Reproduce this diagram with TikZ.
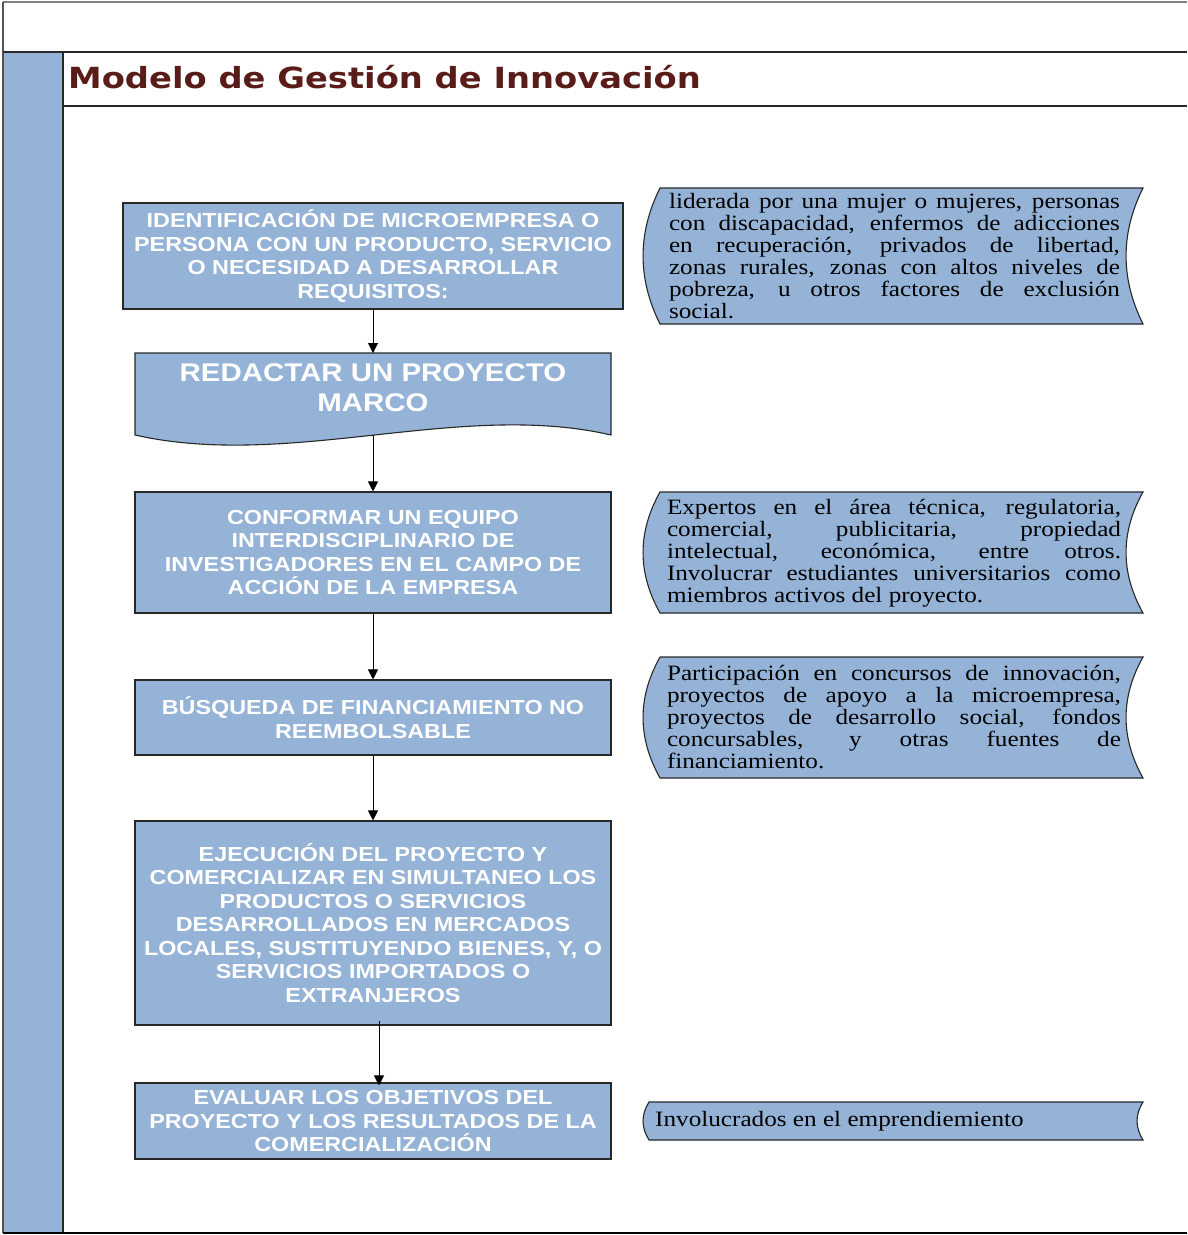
\documentclass[tikz,border=0pt]{standalone}
\usepackage{fontspec}
\setmainfont{Liberation Serif}
\newfontfamily\boxfont[FakeStretch=1.15]{Liberation Sans Bold}
\newfontfamily\titlefont[FakeStretch=1.16]{DejaVu Sans Bold}
\newfontfamily\notefont[FakeStretch=1.15]{Liberation Serif}
\usetikzlibrary{arrows.meta}
\definecolor{boxblue}{RGB}{149,179,215}
\definecolor{titlebrown}{RGB}{90,28,24}
\definecolor{edgegray}{RGB}{40,40,40}
\tolerance=9999
\hyphenpenalty=10000
\tikzset{
	stored data/.pic={
		\tikzset{/sdata/.cd,#1}
		\path[pic actions] ({-\sdw/2+\sdb},{-\sdh/2}) -- ({\sdw/2},{-\sdh/2})
		.. controls ({\sdw/2-1.33*\sdb},{-\sdh/6}) and ({\sdw/2-1.33*\sdb},{\sdh/6}) .. ({\sdw/2},{\sdh/2})
		-- ({-\sdw/2+\sdb},{\sdh/2})
		.. controls ({-\sdw/2-0.33*\sdb},{\sdh/6}) and ({-\sdw/2-0.33*\sdb},{-\sdh/6}) .. cycle;
	},
	/sdata/.search also={/tikz},
	/sdata/.cd,
	width/.store in=\sdw,
	height/.store in=\sdh,
	bulge/.store in=\sdb,
	width=500,
	height=100,
	bulge=17,
}
\tikzset{
	stepbox/.style={draw=edgegray, line width=1.1pt, fill=boxblue, text=white, align=center, inner sep=0pt, minimum width=476pt, font=\boxfont\fontsize{20.3}{23.5}\selectfont},
	datafill/.style={fill=boxblue, draw=edgegray, line width=1.1pt},
	notetext/.style={inner sep=0pt, align=justify, font=\notefont\fontsize{21.9}{22}\selectfont},
	conn/.style={-{Triangle[length=10pt,width=10pt]}, line width=1pt},
}

\begin{document}
\begin{tikzpicture}[x=1pt,y=-1pt]
	\useasboundingbox (0,0) rectangle (1187,1235);
	% frame and title bar
	\fill[boxblue] (3,52) rectangle (63,1233);
	\draw[edgegray, line width=1.2pt] (63,52) -- (63,1233);
	\draw[gray, line width=2pt] (3,2) -- (1187,2);
	\draw[edgegray!80, line width=2pt] (3,2) -- (3,1233);
	\draw[edgegray, line width=1.3pt] (3,52) -- (1187,52);
	\draw[edgegray, line width=1.3pt] (63,106) -- (1187,106);
	\draw[line width=1.6pt] (3,1233) -- (1187,1233);
	\node[anchor=base west, inner sep=0pt, text=titlebrown, font=\titlefont\fontsize{29.1}{30}\selectfont] (title) at (68,88) {Modelo de Gestión de Innovación};

	% steps
	\node[stepbox, minimum width=500pt, minimum height=106pt] (b1) at (373,256) {IDENTIFICACIÓN DE MICROEMPRESA O\\PERSONA CON UN PRODUCTO, SERVICIO\\O NECESIDAD A DESARROLLAR\\REQUISITOS:};
	\draw[datafill] (135,353) -- (611,353) -- (611,435) .. controls (460,400) and (290,470) .. (135,435) -- cycle;
	\coordinate (b2n) at (373,353);
	\coordinate (b2s) at (373,435);
	\node[text=white, align=center, font=\boxfont\fontsize{25.6}{30}\selectfont] (b2) at (373,388) {REDACTAR UN PROYECTO\\MARCO};
	\node[stepbox, minimum height=121pt] (b3) at (373,552.5) {CONFORMAR UN EQUIPO\\INTERDISCIPLINARIO DE\\INVESTIGADORES EN EL CAMPO DE\\ACCIÓN DE LA EMPRESA};
	\node[stepbox, minimum height=75pt] (b4) at (373,717.5) {BÚSQUEDA DE FINANCIAMIENTO NO\\REEMBOLSABLE};
	\node[stepbox, minimum height=204pt] (b5) at (373,923) {EJECUCIÓN DEL PROYECTO Y\\COMERCIALIZAR EN SIMULTANEO LOS\\PRODUCTOS O SERVICIOS\\DESARROLLADOS EN MERCADOS\\LOCALES, SUSTITUYENDO BIENES, Y, O\\SERVICIOS IMPORTADOS O\\EXTRANJEROS};
	\node[stepbox, minimum height=76pt] (b6) at (373,1121) {EVALUAR LOS OBJETIVOS DEL\\PROYECTO Y LOS RESULTADOS DE LA\\COMERCIALIZACIÓN};

	\draw[conn] (b1) -- (b2n);
	\draw[conn] (b2s) -- (b3);
	\draw[conn] (b3) -- (b4);
	\draw[conn] (b4) -- (b5);
	\draw[conn] ([xshift=6pt,yshift=5pt]b5.south) -- ([xshift=6pt,yshift=-3pt]b6.north);

	% notes
	\pic[datafill] at (893,256) {stored data={height=136}};
	\pic[datafill] at (893,552.5) {stored data={height=121}};
	\pic[datafill] at (893,717.5) {stored data={height=121}};
	\pic[datafill] at (893,1121) {stored data={height=38,bulge=6}};
	\node[notetext, text width=451pt] (n1) at (894.5,256) {liderada por una mujer o mujeres, personas\linebreak con discapacidad, enfermos de adicciones\linebreak en recuperación, privados de libertad,\linebreak zonas rurales, zonas con altos niveles de\linebreak pobreza, u otros factores de exclusión\linebreak social.};
	\node[notetext, text width=454pt] (n2) at (894,553) {Expertos en el área técnica, regulatoria,\linebreak comercial, publicitaria, propiedad\linebreak intelectual, económica, entre otros.\linebreak Involucrar estudiantes universitarios como\linebreak miembros activos del proyecto.};
	\node[notetext, text width=454pt] (n3) at (894,717) {Participación en concursos de innovación,\linebreak proyectos de apoyo a la microempresa,\linebreak proyectos de desarrollo social, fondos\linebreak concursables, y otras fuentes de\linebreak financiamiento.};
	\node[notetext, anchor=west] (n4) at (655,1121) {Involucrados en el emprendiemiento};
\end{tikzpicture}
\end{document}
